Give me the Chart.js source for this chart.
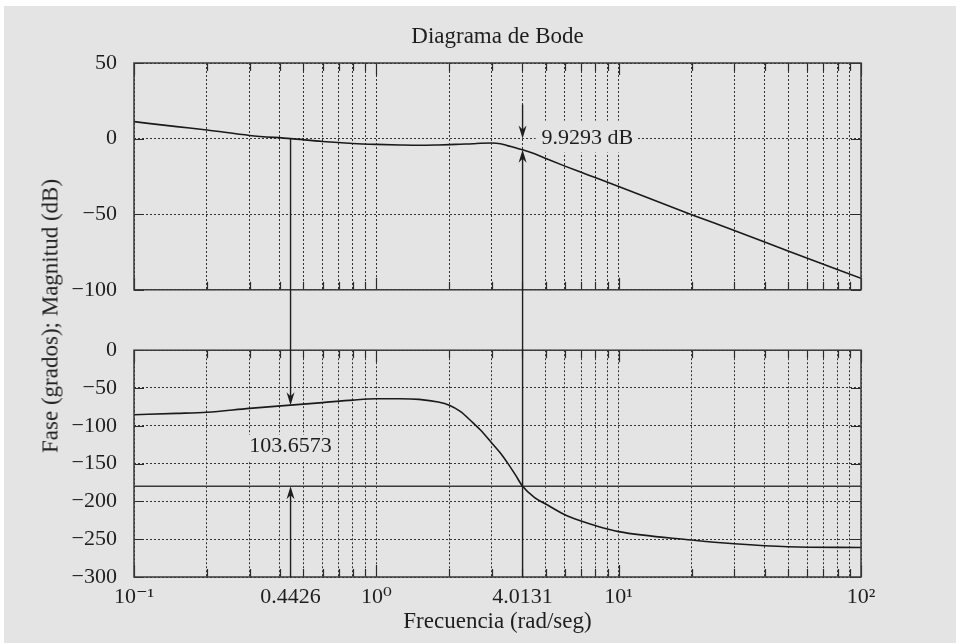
<!DOCTYPE html>
<html>
<head>
<meta charset="utf-8">
<script src="https://cdn.jsdelivr.net/npm/chart.js@4.4.1/dist/chart.umd.min.js"></script>
<style>
html, body { margin: 0; padding: 0; width: 956px; height: 643px; background: #fff; overflow: hidden; }
#bg { position: absolute; left: 4px; top: 6px; right: 0; bottom: 0; background: #e4e4e4; }
#c1 { position: absolute; left: 0; top: 0; }
#c2 { position: absolute; left: 0; top: 320px; }
#ylabel {
    position: absolute; left: 49.5px; top: 316px;
    transform: translate(-50%, -50%) rotate(-90deg);
    font-family: 'Liberation Serif', 'DejaVu Serif', serif; font-size: 23px; line-height: 23px;
    color: #222; white-space: nowrap;
}
</style>
</head>
<body>
<div id="bg"></div>
<canvas id="c1" width="956" height="320"></canvas>
<canvas id="c2" width="956" height="323"></canvas>
<div id="ylabel">Fase (grados); Magnitud (dB)</div>
<script>
// values
const freq      = [0.1, 0.15, 0.2, 0.3, 0.4426, 0.6, 0.8, 1, 1.25, 1.5, 1.8, 2, 2.22, 2.5, 2.69, 3, 3.25, 3.5, 3.75, 4.0131, 4.5, 5, 6, 7, 8, 10, 20, 30, 50, 100];
const magnitude = [11.2, 7.9, 5.7, 2.1, 0, -1.9, -3.2, -3.8, -4.2, -4.4, -4.2, -4.0, -3.7, -3.4, -3.1, -2.9, -3.4, -4.8, -6.1, -7.4, -10.1, -13.1, -18.2, -22.3, -25.8, -31.7, -50.3, -60.7, -74.3, -92.4];
const phase     = [-85.4, -83.6, -82, -76.9, -72.7, -69.3, -66, -64.3, -64.2, -65, -68.5, -72.7, -81, -95.8, -105.5, -123, -136, -150.4, -165, -180, -195, -203.5, -217.7, -226, -232, -240, -251, -256, -260, -261];

const phaseRef = -180;
const pmFreq = 0.4426, pmText = '103.6573';
const gmFreq = 4.0131, gmText = '9.9293 dB';

const xLabelValues = [0.1, 0.4426, 1, 4.0131, 10, 100];
const xLabelTexts  = ['10\u207B\u00B9', '0.4426', '10\u2070', '4.0131', '10\u00B9', '10\u00B2'];
const magTicks   = [50, 0, -50, -100];
const phaseTicks = [0, -50, -100, -150, -200, -250, -300];

const gridFreqs = [];
for (let d = 0.1; d < 100; d *= 10) {
    for (let m = 1; m < 10; m++) gridFreqs.push(+(m * d).toPrecision(3));
}
gridFreqs.push(100);

const FONT = "'Liberation Serif', 'DejaVu Serif', serif";
const INK = '#1e1e1e';
const GRID = '#333333';
const BG = '#e4e4e4';

function valueAt(arr, f) {
    for (let i = 0; i < freq.length - 1; i++) {
        if (f >= freq[i] && f <= freq[i + 1]) {
            const t = (Math.log10(f) - Math.log10(freq[i])) / (Math.log10(freq[i + 1]) - Math.log10(freq[i]));
            return arr[i] + t * (arr[i + 1] - arr[i]);
        }
    }
    return arr[arr.length - 1];
}

function isGrid(v) {
    return gridFreqs.some(g => Math.abs(g - v) < 1e-9);
}

function isDecade(v) {
    const l = Math.log10(v);
    return Math.abs(l - Math.round(l)) < 1e-9;
}

function xScale(showLabels) {
    return {
        type: 'logarithmic',
        min: 0.1,
        max: 100,
        afterBuildTicks: s => {
            const vals = gridFreqs.concat(showLabels ? [pmFreq, gmFreq] : []).sort((a, b) => a - b);
            s.ticks = vals.map(v => ({ value: v }));
        },
        afterFit: s => { s.height = showLabels ? 66 : 0; },
        grid: {
            color: c => (c.tick && isGrid(c.tick.value)) ? GRID : 'rgba(0,0,0,0)',
            lineWidth: 1,
            drawTicks: false
        },
        border: { display: false, dash: [2, 2] },
        ticks: {
            display: showLabels,
            autoSkip: false,
            maxRotation: 0,
            padding: 7,
            color: INK,
            font: { family: FONT, size: 22 },
            callback: v => {
                const i = xLabelValues.findIndex(l => Math.abs(l - v) < 1e-9);
                return i >= 0 ? xLabelTexts[i] : '';
            }
        },
        title: {
            display: showLabels,
            text: 'Frecuencia (rad/seg)',
            color: INK,
            font: { family: FONT, size: 23 },
            padding: { top: 0, bottom: 7 }
        }
    };
}

function yScale(tickVals) {
    return {
        min: Math.min(...tickVals),
        max: Math.max(...tickVals),
        afterBuildTicks: s => { s.ticks = tickVals.map(v => ({ value: v })); },
        afterFit: s => { s.width = 134; },
        grid: { color: GRID, lineWidth: 1, drawTicks: false },
        border: { display: false, dash: [2, 2] },
        ticks: {
            autoSkip: false,
            padding: 17,
            color: INK,
            font: { family: FONT, size: 22 },
            callback: v => String(v).replace('-', '\u2212')
        }
    };
}

function arrowHead(ctx, x, y, dir) {
    ctx.beginPath();
    ctx.moveTo(x, y);
    ctx.lineTo(x - 4, y - dir * 13);
    ctx.lineTo(x, y - dir * 9);
    ctx.lineTo(x + 4, y - dir * 13);
    ctx.closePath();
    ctx.fill();
}

function vline(ctx, x, y1, y2) {
    ctx.beginPath();
    ctx.moveTo(x, y1);
    ctx.lineTo(x, y2);
    ctx.stroke();
}

function boxedText(ctx, text, x, y, align, padL, padR, padT, padB) {
    ctx.font = '22px ' + FONT;
    const w = ctx.measureText(text).width;
    const left = align === 'center' ? x - w / 2 : x;
    ctx.fillStyle = BG;
    ctx.fillRect(left - padL, y - padT, w + padL + padR, padT + padB);
    ctx.fillStyle = INK;
    ctx.textAlign = 'left';
    ctx.textBaseline = 'middle';
    ctx.fillText(text, left, y);
}

const panelPlugin = {
    id: 'panel',
    afterDatasetsDraw(chart, args, opts) {
        const ctx = chart.ctx;
        const a = chart.chartArea;
        const xs = chart.scales.x, ys = chart.scales.y;
        ctx.save();

        // inward tick marks
        ctx.strokeStyle = '#2a2a2a';
        ctx.lineWidth = 1.2;
        gridFreqs.forEach(v => {
            const x = Math.round(xs.getPixelForValue(v)) + 0.5;
            const len = isDecade(v) ? 12 : 8;
            vline(ctx, x, a.top, a.top + len);
            vline(ctx, x, a.bottom, a.bottom - len);
        });
        opts.yTicks.forEach(v => {
            const y = Math.round(ys.getPixelForValue(v)) + 0.5;
            ctx.beginPath();
            ctx.moveTo(a.left, y); ctx.lineTo(a.left + 10, y);
            ctx.moveTo(a.right, y); ctx.lineTo(a.right - 10, y);
            ctx.stroke();
        });

        // frame
        ctx.lineWidth = 1.5;
        ctx.strokeStyle = '#3a3a3a';
        ctx.strokeRect(a.left, a.top, a.right - a.left, a.bottom - a.top);

        // margin annotations
        ctx.strokeStyle = '#1e1e1e';
        ctx.fillStyle = '#1e1e1e';
        ctx.lineWidth = 1.4;
        const xPm = xs.getPixelForValue(pmFreq);
        const xGm = xs.getPixelForValue(gmFreq);
        if (opts.panel === 'mag') {
            const y0 = ys.getPixelForValue(0);
            vline(ctx, xPm, y0, chart.height);
            const yc = ys.getPixelForValue(valueAt(magnitude, gmFreq));
            vline(ctx, xGm, chart.height, yc + 8);
            arrowHead(ctx, xGm, yc, -1);
            vline(ctx, xGm, y0 - 34, y0 - 8);
            arrowHead(ctx, xGm, y0, 1);
            boxedText(ctx, gmText, xGm + 19, y0, 'left', 6, 3, 18, 14);
        } else {
            const pc = valueAt(phase, pmFreq);
            const yc = ys.getPixelForValue(pc);
            const yr = ys.getPixelForValue(phaseRef);
            vline(ctx, xPm, 0, yc - 8);
            arrowHead(ctx, xPm, yc, 1);
            vline(ctx, xPm, a.bottom, yr + 8);
            arrowHead(ctx, xPm, yr, -1);
            vline(ctx, xGm, a.bottom, 0);
            boxedText(ctx, pmText, xPm, ys.getPixelForValue((pc + phaseRef) / 2), 'center', 6, 6, 11, 15);
        }
        ctx.restore();
    }
};

function points(vals) {
    return freq.map((f, i) => ({ x: f, y: vals[i] }));
}

const common = {
    responsive: false,
    animation: false,
    events: [],
    elements: { point: { radius: 0 } }
};

new Chart(document.getElementById('c1'), {
    type: 'line',
    data: {
        datasets: [{
            data: points(magnitude),
            borderColor: '#1a1a1a',
            borderWidth: 1.6,
            cubicInterpolationMode: 'monotone'
        }]
    },
    options: Object.assign({}, common, {
        layout: { padding: { left: 0, right: 95, top: 0, bottom: 21 } },
        scales: { x: xScale(false), y: yScale(magTicks) },
        plugins: {
            legend: { display: false },
            tooltip: { enabled: false },
            title: {
                display: true,
                text: 'Diagrama de Bode',
                fullSize: false,
                color: INK,
                font: { family: FONT, size: 23, weight: 'normal' },
                padding: { top: 23.4, bottom: 12 }
            },
            panel: { panel: 'mag', yTicks: magTicks }
        }
    }),
    plugins: [panelPlugin]
});

new Chart(document.getElementById('c2'), {
    type: 'line',
    data: {
        datasets: [{
            data: points(phase),
            borderColor: '#1a1a1a',
            borderWidth: 1.6,
            cubicInterpolationMode: 'monotone'
        }, {
            data: [{ x: 0.1, y: phaseRef }, { x: 100, y: phaseRef }],
            borderColor: '#3a3a3a',
            borderWidth: 1.5
        }]
    },
    options: Object.assign({}, common, {
        layout: { padding: { left: 0, right: 95, top: 19, bottom: 0 } },
        scales: { x: xScale(true), y: yScale(phaseTicks) },
        plugins: {
            legend: { display: false },
            tooltip: { enabled: false },
            panel: { panel: 'phase', yTicks: phaseTicks }
        }
    }),
    plugins: [panelPlugin]
});
</script>
</body>
</html>
